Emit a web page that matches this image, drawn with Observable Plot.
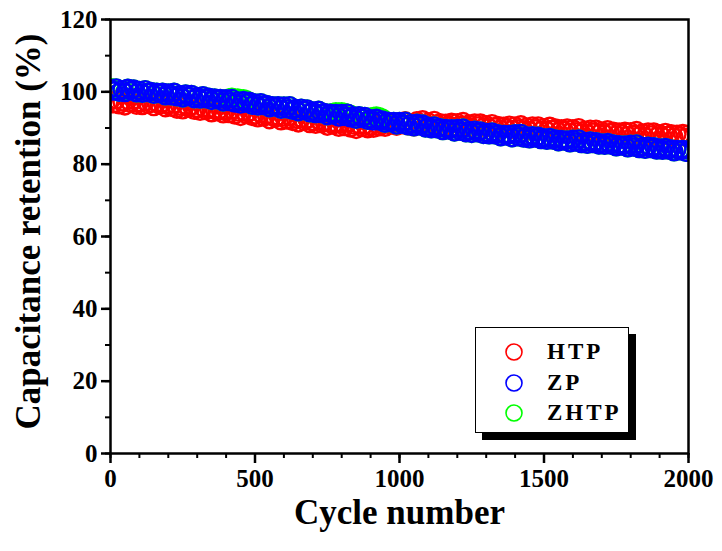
<!DOCTYPE html>
<html>
<head>
<meta charset="utf-8">
<script src="https://cdn.jsdelivr.net/npm/d3@7"></script>
<script src="https://cdn.jsdelivr.net/npm/@observablehq/plot@0.6"></script>
<style>
  html, body { margin: 0; padding: 0; background: #fff; }
  #wrap { position: relative; width: 722px; height: 551px; }
  #legend { position: absolute; left: 475px; top: 327px; width: 152px; height: 104px;
    border: 1.5px solid #000; background: #fff; box-shadow: 7px 7px 0 #000; }
  .row { position: absolute; left: 0; height: 20px; display: flex; align-items: center; }
  .row svg { margin-left: 28px; }
  .row span { margin-left: 23px; font-family: "Liberation Serif", serif; font-weight: bold;
    font-size: 23px; letter-spacing: 3px; color: #000; }
</style>
</head>
<body>
<div id="wrap"></div>
<script>
// cycles sampled every 10 cycles (0..2000)
const cycles = d3.range(0, 2001, 10);
const htpValues = [
  97.5,96.7,97.8,96.4,97.2,96.1,97.6,96.8,97.7,96.3,97.0,96.2,97.3,96.5,96.8,95.9,96.9,96.3,96.8,95.6,
  96.5,95.7,96.6,95.2,96.0,95.0,96.2,95.5,96.1,94.9,95.4,94.6,95.6,94.8,95.2,94.2,95.0,94.5,95.0,93.9,
  94.8,94.0,95.0,93.6,94.4,93.2,94.5,93.7,94.4,93.2,93.6,92.8,94.0,93.0,93.4,92.3,93.2,92.7,93.2,92.0,
  93.0,92.2,93.2,91.8,92.5,91.4,92.6,91.8,92.4,91.2,91.8,91.0,92.1,91.2,91.5,90.5,91.3,90.8,91.3,90.2,
  91.2,90.4,91.5,90.0,90.8,89.6,90.8,90.1,90.8,89.8,90.6,89.9,91.0,90.3,90.9,90.2,91.3,90.8,91.6,90.5,
  91.7,90.9,92.0,90.6,91.4,90.3,92.0,91.3,92.3,90.9,91.7,90.7,92.1,91.1,91.5,90.4,91.3,90.7,91.6,90.4,
  91.5,90.7,91.8,90.4,91.1,90.0,91.4,90.6,91.4,90.2,90.9,90.1,91.2,90.3,90.7,89.6,90.5,90.0,90.8,89.6,
  90.6,89.8,90.9,89.5,90.3,89.2,90.6,89.8,90.6,89.3,90.1,89.3,90.5,89.6,90.0,89.0,89.8,89.3,90.0,88.8,
  89.8,89.0,90.1,88.7,89.4,88.4,89.7,88.9,89.7,88.5,89.2,88.4,89.5,88.7,89.1,88.1,88.9,88.4,89.1,87.9,
  89.0,88.2,89.3,87.9,88.6,87.6,88.9,88.1,88.9,87.7,88.4,87.7,88.8,88.0,88.4,87.5,88.3,87.8,88.5,87.4,
  88.3];
const zpValues = [
  100.9,100.2,101.1,99.9,100.6,99.8,101.0,100.3,100.8,99.7,100.4,99.6,100.6,99.8,100.1,99.3,99.9,99.5,99.9,98.9,
  99.7,98.9,99.9,98.6,99.2,98.3,99.4,98.7,99.3,98.1,98.7,98.0,98.9,98.1,98.5,97.6,98.3,97.8,98.2,97.2,
  98.1,97.3,98.2,96.9,97.5,96.6,97.6,96.9,97.4,96.3,96.9,96.1,97.0,96.2,96.5,95.6,96.2,95.8,96.2,95.2,
  96.1,95.3,96.2,94.9,95.4,94.5,95.5,94.8,95.3,94.2,94.7,94.0,94.9,94.0,94.3,93.4,94.1,93.6,94.0,93.0,
  94.0,93.2,94.1,92.8,93.3,92.4,93.4,92.7,93.2,92.1,92.6,91.9,92.7,91.9,92.2,91.3,91.9,91.5,91.8,90.8,
  91.8,91.0,91.9,90.6,91.2,90.3,91.3,90.6,91.1,90.0,90.5,89.8,90.6,89.8,90.1,89.3,89.9,89.4,89.8,88.9,
  89.9,89.1,90.0,88.7,89.3,88.5,89.4,88.7,89.2,88.2,88.8,88.1,88.9,88.1,88.4,87.6,88.2,87.8,88.2,87.3,
  88.4,87.6,88.5,87.2,87.8,87.0,87.9,87.2,87.7,86.8,87.3,86.6,87.4,86.7,87.0,86.2,86.8,86.4,86.7,85.9,
  86.9,86.1,87.0,85.7,86.3,85.5,86.4,85.7,86.2,85.3,85.9,85.2,86.0,85.3,85.6,84.8,85.4,85.0,85.3,84.5,
  85.5,84.7,85.6,84.3,84.9,84.1,85.0,84.3,84.8,83.9,84.5,83.8,84.6,83.9,84.2,83.4,84.1,83.7,84.1,83.3,
  84.0];
// ZHTP lies almost exactly under ZP; it only shows at the top edge in a few places
const zhtpValues = [
  101.2,100.5,101.1,99.9,100.6,100.1,101.0,100.3,100.8,99.7,100.4,99.6,100.6,99.8,100.1,99.3,99.9,99.5,99.9,98.9,
  99.7,98.9,99.9,98.6,99.2,98.3,99.4,98.7,99.3,98.1,98.7,98.0,98.9,98.1,98.5,97.6,98.3,97.8,98.2,97.2,
  98.1,98.3,98.5,98.2,98.3,98.0,98.1,97.8,97.4,96.3,96.9,96.1,97.0,96.2,96.5,95.6,96.2,95.8,96.2,95.2,
  96.1,95.3,96.2,94.9,95.4,94.5,95.5,94.8,95.3,94.2,94.7,94.0,94.9,94.0,94.3,93.4,94.1,94.3,94.5,94.4,
  94.5,94.3,94.1,93.8,93.3,92.4,93.4,92.7,93.2,92.1,93.0,93.2,93.3,93.1,92.8,91.3,91.9,91.5,91.8,90.8,
  91.8,91.0,91.9,90.6,91.2,90.3,91.3,90.6,91.1,90.0,90.5,89.8,90.6,89.8,90.1,89.3,89.9,89.4,89.8,88.9,
  89.9,89.1,90.0,88.7,89.3,88.5,89.4,88.7,89.2,88.2,88.8,88.1,88.9,88.1,88.4,87.6,88.2,87.8,88.2,87.3,
  88.4,87.6,88.5,87.2,87.8,87.0,87.9,87.2,87.7,86.8,87.3,86.6,87.4,86.7,87.0,86.2,86.8,86.4,86.7,85.9,
  86.9,86.1,87.0,85.7,86.3,85.5,86.4,85.7,86.2,85.3,85.9,85.2,86.0,85.3,85.6,84.8,85.4,85.0,85.3,84.5,
  85.5,84.7,85.6,84.3,84.9,84.1,85.0,84.3,84.8,83.9,84.5,83.8,84.6,83.9,84.2,83.4,84.1,83.7,84.1,83.3,
  84.0];

const seriesNames = ["HTP", "ZP", "ZHTP"];
const seriesColors = ["#ff0000", "#0000ff", "#00ff00"];
const xTicks = [0, 500, 1000, 1500, 2000];
const xMinorTicks = d3.range(0, 2001, 100);
const yTicks = [0, 20, 40, 60, 80, 100, 120];
const yMinorTicks = d3.range(0, 121, 10);

const toRows = (vals) => cycles.map((c, i) => ({cycle: c, value: vals[i]}));
const htp = toRows(htpValues), zp = toRows(zpValues), zhtp = toRows(zhtpValues);

const dotOpts = (color) => ({x: "cycle", y: "value", r: 8.5, stroke: color, strokeWidth: 2.4, fill: "none", clip: true});
const fmt = (d) => String(d);

const chart = Plot.plot({
  width: 722, height: 551,
  marginLeft: 110, marginRight: 34, marginTop: 19, marginBottom: 98,
  x: {domain: [0, 2000]},
  y: {domain: [0, 120]},
  style: {fontFamily: "'Liberation Serif', serif", fontWeight: "bold", fontSize: "25px", color: "#000", background: "#fff", overflow: "visible"},
  marks: [
    Plot.dot(htp, dotOpts(seriesColors[0])),
    Plot.dot(zhtp, dotOpts(seriesColors[2])),
    Plot.dot(zp, dotOpts(seriesColors[1])),
    Plot.frame({stroke: "#000", strokeWidth: 2.5}),
    Plot.axisX({ticks: xTicks, tickSize: 10, tickPadding: 6, strokeWidth: 2.5, tickFormat: fmt, label: null, fontSize: 25}),
    Plot.axisX({ticks: xMinorTicks, tickSize: 5, strokeWidth: 2, tickFormat: () => "", label: null}),
    Plot.axisY({ticks: yTicks, tickSize: 9, tickPadding: 4, strokeWidth: 2.5, tickFormat: fmt, label: null, fontSize: 25}),
    Plot.axisY({ticks: yMinorTicks, tickSize: 5, strokeWidth: 2, tickFormat: () => "", label: null}),
    Plot.text(["Cycle number"], {frameAnchor: "bottom", dy: 70, fontSize: 35, fontWeight: "bold", fill: "#000", textAnchor: "middle"}),
    Plot.text(["Capacitance retention (%)"], {frameAnchor: "left", dx: -82, dy: -5, rotate: -90, textAnchor: "middle", fontSize: 35, fontWeight: "bold", fill: "#000"})
  ]
});

const wrap = document.getElementById("wrap");
wrap.appendChild(chart);

const legend = document.createElement("div");
legend.id = "legend";
seriesNames.forEach((name, i) => {
  const row = document.createElement("div");
  row.className = "row";
  row.style.top = (14 + i * 30.5) + "px";
  row.innerHTML = `<svg width="20" height="20"><circle cx="10" cy="10" r="8" fill="none" stroke="${seriesColors[i]}" stroke-width="1.6"/></svg><span>${name}</span>`;
  legend.appendChild(row);
});
wrap.appendChild(legend);
</script>
</body>
</html>
